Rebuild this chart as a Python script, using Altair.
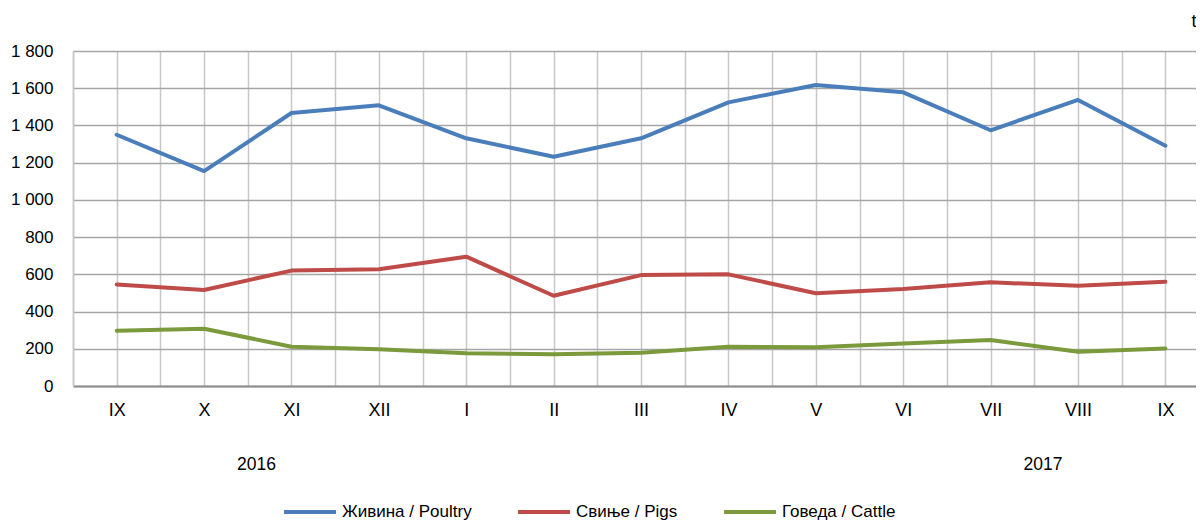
import altair as alt
import pandas as pd

months = ["IX", "X", "XI", "XII", "I", "II", "III", "IV", "V", "VI", "VII", "VIII", "IX"]
poultry = [1350, 1155, 1467, 1508, 1331, 1232, 1331, 1524, 1617, 1578, 1374, 1537, 1291]
pigs = [546, 516, 620, 627, 695, 485, 596, 600, 498, 521, 557, 539, 560]
cattle = [297, 308, 211, 197, 176, 170, 179, 211, 208, 229, 247, 184, 202]
series_names = ["Живина / Poultry", "Свиње / Pigs", "Говеда / Cattle"]
series_colors = ["#4A7EBB", "#BE4B48", "#7A9A3C"]
years = ["2016", "2017"]
year_pos = [1.6, 10.6]
y_ticks = [0, 200, 400, 600, 800, 1000, 1200, 1400, 1600, 1800]

FONT = "Liberation Sans, Arial"

rows = []
for name, vals in zip(series_names, [poultry, pigs, cattle]):
    for i, v in enumerate(vals):
        rows.append({"idx": i, "month": months[i], "series": name, "value": v})
df = pd.DataFrame(rows)

x_tick_vals = [i / 2 for i in range(-1, 25)]
month_arr = "[" + ",".join("'" + m + "'" for m in months) + "]"
x_label_expr = f"datum.value % 1 == 0 && datum.value >= 0 ? {month_arr}[datum.value] : ''"

x_scale = alt.Scale(domain=[-0.5, 12.35], nice=False, zero=False)
y_scale = alt.Scale(domain=[0, 1800], nice=False)

lines = alt.Chart(df).mark_line(strokeWidth=4, strokeCap="round", strokeJoin="round").encode(
    x=alt.X("idx:Q", scale=x_scale, title=None,
            axis=alt.Axis(values=x_tick_vals, labelExpr=x_label_expr, grid=True,
                          gridColor="#C8C8C8", gridWidth=1.5, ticks=False,
                          domain=True, domainColor="#8C8C8C", domainWidth=2,
                          labelFont=FONT, labelFontSize=18, labelColor="#000000",
                          labelPadding=15, labelOverlap=False, labelFlush=False)),
    y=alt.Y("value:Q", scale=y_scale, title=None,
            axis=alt.Axis(values=y_ticks, labelExpr="replace(format(datum.value, ','), ',', ' ')",
                          grid=True, gridColor="#A6A6A6", gridWidth=1.5, ticks=False,
                          domain=True, domainColor="#C8C8C8", domainWidth=1.5,
                          labelFont=FONT, labelFontSize=17, labelColor="#000000",
                          labelPadding=20)),
    color=alt.Color("series:N", scale=alt.Scale(domain=series_names, range=series_colors),
                    sort=series_names, title=None,
                    legend=alt.Legend(orient="none", legendX=209, legendY=433,
                                      direction="horizontal", symbolType="stroke",
                                      symbolSize=2700, symbolStrokeWidth=4,
                                      labelFont=FONT, labelFontSize=17, labelColor="#000000",
                                      labelOffset=4, columnPadding=38, padding=0,
                                      labelLimit=300)),
    detail="series:N",
)

year_df = pd.DataFrame({"year": years, "pos": year_pos})
year_text = alt.Chart(year_df).mark_text(font=FONT, fontSize=17.5, color="#000000").encode(
    x=alt.X("pos:Q", scale=x_scale),
    y=alt.value(414),
    text="year:N",
)

unit_text = alt.Chart(pd.DataFrame({"u": ["t"]})).mark_text(font=FONT, fontSize=18, color="#000000").encode(
    x=alt.value(1121),
    y=alt.value(-29),
    text="u:N",
)

chart = alt.layer(lines, year_text, unit_text).properties(
    width=1123, height=335,
    autosize=alt.AutoSizeParams(type="none"),
    padding={"left": 65, "top": 43, "right": 0, "bottom": 134},
    background="#FFFFFF",
).configure_view(stroke=None)

chart.save("out.html", embed_options={"renderer": "svg", "actions": False})
